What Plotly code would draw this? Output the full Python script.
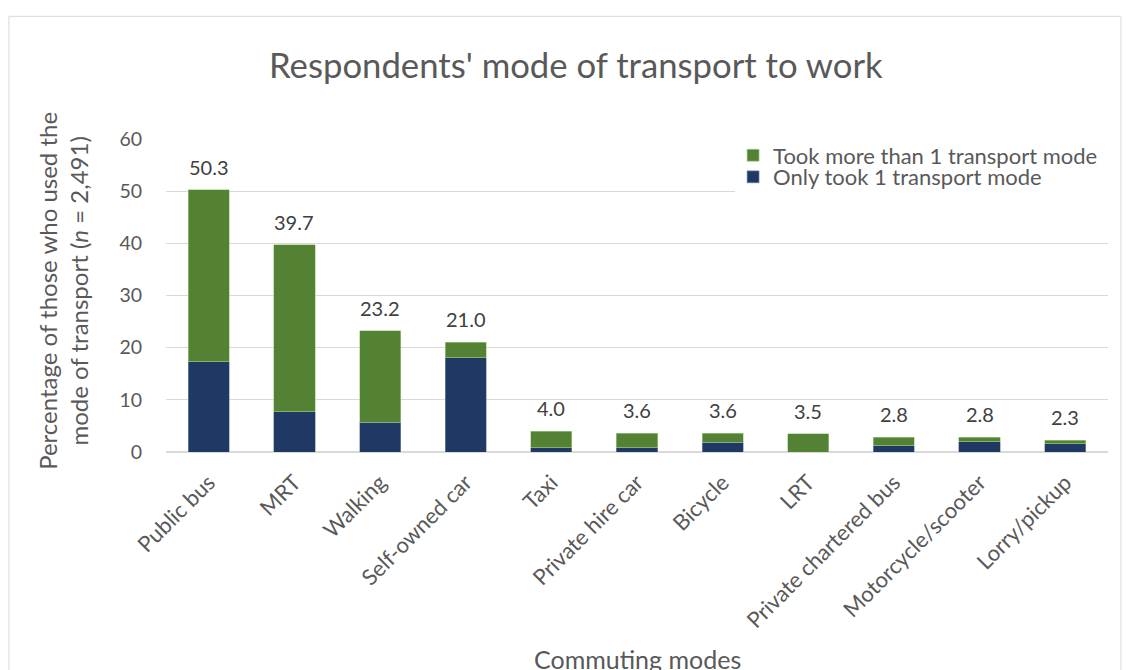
import plotly.graph_objects as go

categories = ["Public bus", "MRT", "Walking", "Self-owned car", "Taxi", "Private hire car",
              "Bicycle", "LRT", "Private chartered bus", "Motorcycle/scooter", "Lorry/pickup"]
only_one = [17.3, 7.7, 5.7, 18.1, 0.8, 0.8, 1.9, 0.0, 1.2, 2.0, 1.6]
more_than_one = [33.0, 32.0, 17.5, 2.9, 3.2, 2.8, 1.7, 3.5, 1.6, 0.8, 0.7]
totals = [50.3, 39.7, 23.2, 21.0, 4.0, 3.6, 3.6, 3.5, 2.8, 2.8, 2.3]
y_ticks = [0, 10, 20, 30, 40, 50, 60]

FONT = "Lato"
GRAY = "#595959"
BLUE = "#203864"
GREEN = "#548235"

fig = go.Figure()
fig.add_trace(go.Bar(x=categories, y=only_one, name="Only took 1 transport mode", legend="legend",
                     marker=dict(color=BLUE, line=dict(color="#8497b0", width=0.6))))
fig.add_trace(go.Bar(x=categories, y=more_than_one, name="Took more than 1 transport mode", legend="legend2",
                     marker=dict(color=GREEN, line=dict(color="#a9d18e", width=0.6))))

for c, t in zip(categories, totals):
    fig.add_annotation(x=c, y=t, text=f"{t:.1f}", showarrow=False, yanchor="middle",
                       yshift=23, font=dict(family=FONT, size=20, color="#404040"))

# title
fig.add_annotation(xref="paper", yref="paper", x=0.435, y=1.238, text="Respondents' mode of transport to work",
                   showarrow=False, xanchor="center", yanchor="middle",
                   font=dict(family=FONT, size=34.7, color=GRAY))
# y axis title
fig.add_annotation(xref="paper", yref="paper", x=-0.1093, y=0.515,
                   text="Percentage of those who used the<br>mode of transport (<i>n</i> = 2,491)",
                   showarrow=False, textangle=-90, xanchor="center", yanchor="middle",
                   font=dict(family=FONT, size=24, color=GRAY))
# x axis title
fig.add_annotation(xref="paper", yref="paper", x=0.5, y=-0.66, text="Commuting modes",
                   showarrow=False, xanchor="center", yanchor="middle",
                   font=dict(family=FONT, size=25, color=GRAY))

# white backing behind the legend (hides gridlines like the original)
fig.add_shape(type="rect", xref="paper", yref="paper", x0=0.604, x1=1.0, y0=0.82, y1=1.03,
              line=dict(width=0), fillcolor="white", layer="above")
# outer chart border
fig.add_shape(type="rect", xref="paper", yref="paper", x0=-0.1667, x1=1.0138, y0=-0.75, y1=1.392,
              line=dict(color="#d9d9d9", width=1), fillcolor="rgba(0,0,0,0)", layer="below")

legend_common = dict(xanchor="left", yanchor="top", bgcolor="rgba(0,0,0,0)",
                     font=dict(family=FONT, size=22, color=GRAY), itemwidth=30)
fig.update_layout(
    barmode="stack",
    bargap=0.52,
    width=1126, height=670,
    margin=dict(l=166, r=18, t=139, b=218, autoexpand=False),
    paper_bgcolor="white", plot_bgcolor="white",
    font=dict(family=FONT, color=GRAY),
    legend=dict(x=0.602, y=0.9456, **legend_common),
    legend2=dict(x=0.602, y=1.0146, **legend_common),
    showlegend=True,
)
fig.update_xaxes(tickangle=-45, tickfont=dict(family=FONT, size=22, color=GRAY), automargin=False,
                 showgrid=False, showline=True, linecolor="#d9d9d9", linewidth=1,
                 ticks="", ticklabelstandoff=8)
fig.update_yaxes(range=[0, 60], tickvals=y_ticks, tickfont=dict(family=FONT, size=19.5, color=GRAY),
                 automargin=False, showgrid=True, gridcolor="#d9d9d9", gridwidth=1, zeroline=True,
                 zerolinecolor="#d9d9d9", showline=False, ticks="", ticklabelstandoff=23)

fig.write_html("out.html", config={"displayModeBar": False},
               post_script="document.body.style.margin='0';")
